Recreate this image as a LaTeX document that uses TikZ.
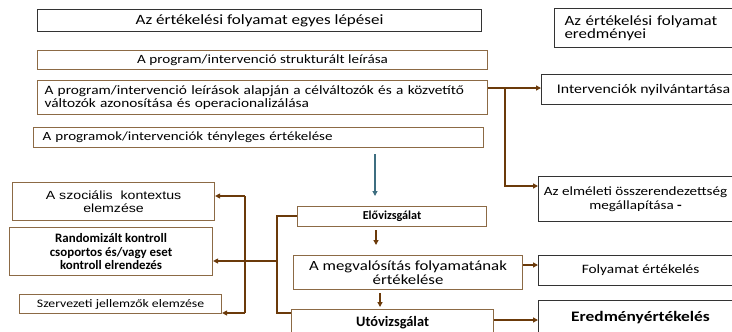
\documentclass[tikz,border=0pt]{standalone}
\usepackage{fontspec}
\setmainfont{Carlito}
\newfontfamily\wide[FakeStretch=1.2]{Carlito}
\newfontfamily\arialf[FakeStretch=1.2]{Liberation Sans}
\usetikzlibrary{arrows.meta}
\definecolor{boxbrown}{HTML}{8C6A45}
\definecolor{linebrown}{HTML}{6B3A0A}
\definecolor{boxgray}{HTML}{333333}
\definecolor{arrblue}{HTML}{3E6E80}
\newcommand{\fs}[1]{\fontsize{#1bp}{#1bp}\selectfont}
\tikzset{
  x=1bp, y=-1bp,
  bx/.style={anchor=north west, inner sep=0pt, line width=1.1bp, align=center},
  brownbox/.style={bx, draw=boxbrown},
  blackbox/.style={bx, draw=boxgray},
  conn/.style={draw=linebrown, line width=1.6bp},
  arr/.style={conn, -{Triangle[length=5bp,width=5bp]}},
}
\begin{document}
\begin{tikzpicture}
\useasboundingbox (0,0) rectangle (732,331);
\clip (0,0) rectangle (732,331);
% left column boxes
\node[blackbox, minimum width=444bp, minimum height=22bp, font=\wide\fs{14.2}] (t1) at (37,9) {Az értékelési folyamat egyes lépései};
\node[blackbox, minimum height=39bp, inner xsep=10bp, text width=171bp, align=left, font=\wide\fs{14.1}] (t2) at (554,8) {Az értékelési folyamat\\[-0.5bp] eredményei};
\node[brownbox, minimum width=450bp, minimum height=19bp, font=\wide\fs{12.6}] (b3) at (37,50) {A program/intervenció strukturált leírása};
\node[brownbox, minimum height=34bp, inner xsep=7bp, text width=436bp, align=left, font=\wide\fs{12.8}] (b4) at (37,80) {A program/intervenció leírások alapján a célváltozók és a közvetítő\\ változók azonosítása és operacionalizálása};
\node[brownbox, minimum height=20bp, inner xsep=9bp, text width=432bp, align=left, font=\wide\fs{12.5}] (b5) at (33,127) {A programok/intervenciók tényleges értékelése};
% right column
\node[blackbox, minimum width=204bp, minimum height=30bp, font=\wide\fs{13.2}] (intv) at (541,74) {Intervenciók nyilvántartása};
\node[blackbox, minimum width=194bp, minimum height=45bp, inner xsep=0pt, font=\wide\fs{12.6}] (elm) at (538,176) {Az elméleti összerendezettség\\[1bp] megállapítása \textbf{-}};
\draw[boxgray, line width=1.1bp] (elm.north east) -- ++(20,0) (elm.south east) -- ++(20,0);
\node[blackbox, minimum width=204bp, minimum height=30bp, font=\wide\fs{12.8}] (fol) at (538,255) {Folyamat értékelés};
\node[blackbox, minimum width=204bp, minimum height=34bp, font=\wide\bfseries\fs{14.5}] (ered) at (538,300) {Eredményértékelés};
% middle column
\node[brownbox, minimum width=189bp, minimum height=20bp, font=\bfseries\fs{12.2}] (elo) at (297,206) {Elővizsgálat};
\node[brownbox, minimum width=229bp, minimum height=34bp, font=\wide\fs{14}] (meg) at (293,255) {A megvalósítás folyamatának\\ értékelése};
\node[brownbox, minimum width=202bp, minimum height=26bp, font=\bfseries\fs{14.4}] (uto) at (291,309) {Utóvizsgálat};
% left boxes
\node[brownbox, minimum width=202bp, minimum height=38bp, font=\arialf\fs{11.8}] (szoc) at (12,182) {A szociális\ \ kontextus\\[1bp] elemzése};
\node[brownbox, minimum width=203bp, minimum height=48bp, font=\bfseries\fs{12.9}] (rand) at (9,227) {Randomizált kontroll\\[0.5bp] csoportos és/vagy eset\\[0.5bp] kontroll elrendezés};
\node[brownbox, minimum width=202bp, minimum height=19bp, font=\wide\fs{11.5}] (szerv) at (19,294) {Szervezeti jellemzők elemzése};
% coordinates
\coordinate (j1) at (505,88);
\coordinate (elmin) at (538,186);
\coordinate (bl1) at (375,154);
\coordinate (bl2) at (375,196);
\coordinate (ea) at (376,230);
\coordinate (eb) at (376,245);
\coordinate (ma) at (380,293);
\coordinate (mb) at (380,307);
\coordinate (br) at (277,216);
\coordinate (brb) at (277,313);
\coordinate (brm) at (277,261);
\coordinate (lv) at (245,261);
\coordinate (lvt) at (245,196);
\coordinate (lvb) at (245,313);
% connectors
\draw[arr] (b4.east |- j1) -- (intv.west |- j1);
\draw[arr] (j1) |- (elmin);
\draw[draw=arrblue, line width=1.1bp, -{Triangle[length=5bp,width=5bp]}] (bl1) -- (bl2);
\draw[arr] (ea) -- (eb);
\draw[arr] (ma) -- (mb);
\draw[arr] (meg.east |- 0,265) -- (fol.west |- 0,265);
\draw[arr] (uto.east |- 0,320) -- (ered.west |- 0,320);
\draw[conn] (elo.west |- br) -- (br) -- (brb) -- (uto.west |- brb);
\draw[conn] (brm) -- (lv);
\draw[conn] (lvt) -- (lvb);
\draw[arr] (lvt) -- (szoc.east |- lvt);
\draw[arr] (lv) -- (rand.east |- lv);
\draw[arr] (lvb) -- (szerv.east |- lvb);
\end{tikzpicture}
\end{document}
